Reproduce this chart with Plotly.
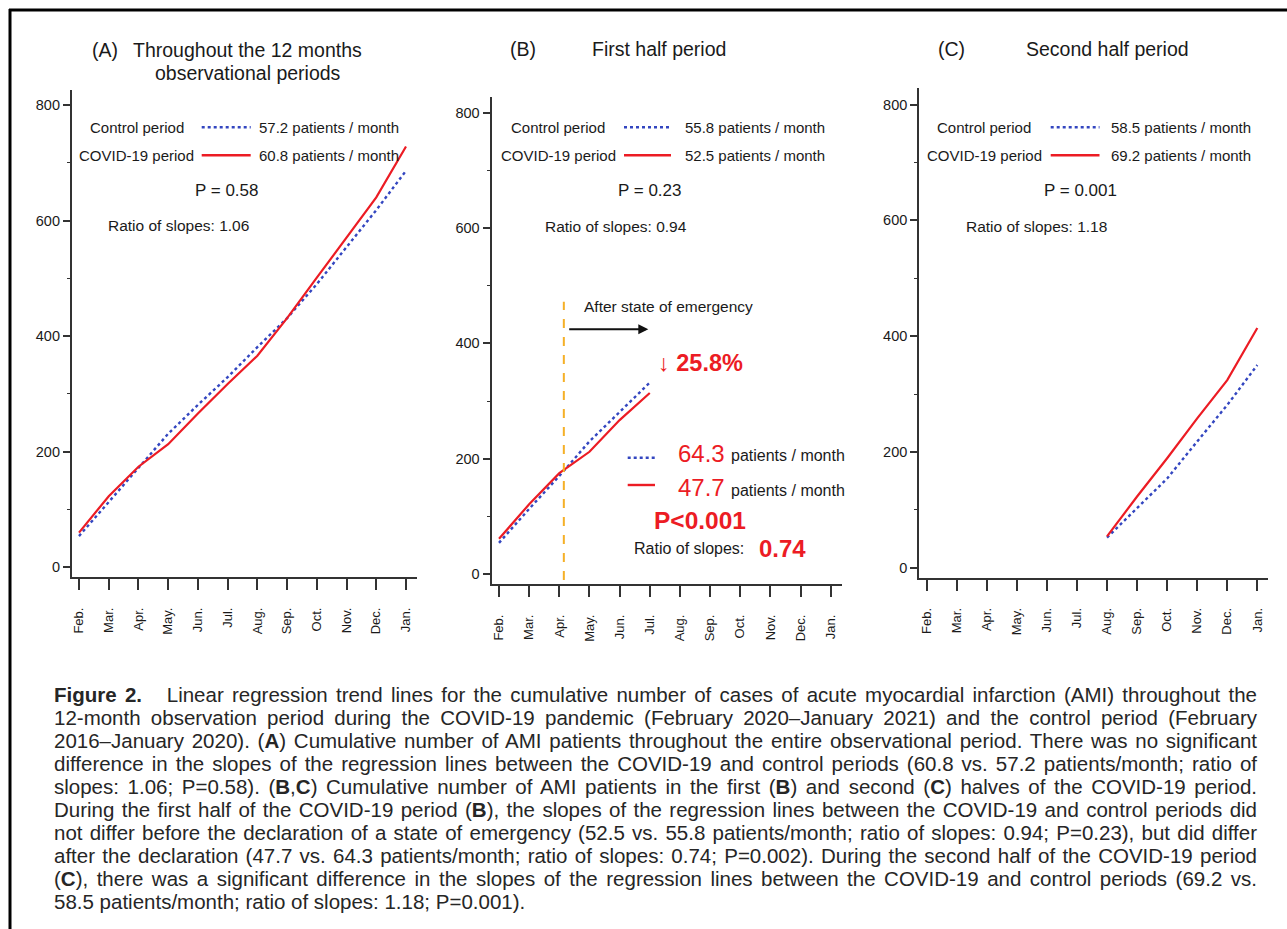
import json
import plotly.graph_objects as go

W, H = 1287, 929

months = ["Feb.", "Mar.", "Apr.", "May.", "Jun.", "Jul.", "Aug.", "Sep.", "Oct.", "Nov.", "Dec.", "Jan."]
y_ticks = [0, 200, 400, 600, 800]

# Panel A: whole 12 months
a_months = months
a_control = [54, 113, 172, 231, 281, 329, 381, 431, 490, 553, 618, 686]
a_covid = [60, 123, 174, 213, 266, 317, 366, 431, 501, 571, 640, 728]

# Panel B: first half
b_months = months[:6]
b_control = [54, 113, 170, 230, 281, 332]
b_covid = [61, 121, 175, 212, 267, 314]

# Panel C: second half
c_months = months[6:]
c_control = [52, 103, 154, 218, 281, 350]
c_covid = [54, 123, 189, 258, 324, 414]

BLUE = "#3346c0"
RED = "#ec1c24"
TXT = "#1a1a1a"
AX = "#333333"
FONT = "Liberation Sans, Arial, sans-serif"
NARROW = "Liberation Sans Narrow, Arial Narrow, Liberation Sans, sans-serif"


def px(x):
    return x / W


def py(y):
    return 1 - y / H


def idx(ms):
    return [months.index(m) for m in ms]


fig = go.Figure()

panels = [
    ("x", "y", a_months, a_control, a_covid),
    ("x2", "y2", b_months, b_control, b_covid),
    ("x3", "y3", c_months, c_control, c_covid),
]
for xr, yr, ms, ctrl, cov in panels:
    fig.add_trace(go.Scatter(x=idx(ms), y=ctrl, mode="lines", xaxis=xr, yaxis=yr,
                             line=dict(color=BLUE, width=2.4, dash="dot"), showlegend=False,
                             hoverinfo="skip"))
    fig.add_trace(go.Scatter(x=idx(ms), y=cov, mode="lines", xaxis=xr, yaxis=yr,
                             line=dict(color=RED, width=2.2), showlegend=False,
                             hoverinfo="skip"))

# axis geometry in pixels
geo = [
    dict(yax=72.0, f=79.0, l=406.0, xend=416.7, y0=567.3, s=0.578, base=577.3, top=90.0),
    dict(yax=491.7, f=499.0, l=830.7, xend=841.7, y0=574.0, s=0.5765, base=584.3, top=96.7),
    dict(yax=919.3, f=926.7, l=1257.3, xend=1268.3, y0=567.7, s=0.579, base=577.7, top=88.3),
]

for i, g in enumerate(geo):
    step = (g["l"] - g["f"]) / 11
    xr0 = (g["yax"] - g["f"]) / step
    xr1 = 11 + (g["xend"] - g["l"]) / step
    yr0 = -(g["base"] - g["y0"]) / g["s"]
    yr1 = (g["y0"] - g["top"]) / g["s"]
    sfx = "" if i == 0 else str(i + 1)
    xa = dict(domain=[px(g["yax"]), px(g["xend"])], range=[xr0, xr1],
              tickmode="array", tickvals=list(range(12)), ticktext=months,
              tickangle=-90, ticks="outside", ticklen=11, tickwidth=1.6, tickcolor=AX,
              showline=True, linewidth=2.2, linecolor=AX, showgrid=False, zeroline=False,
              ticklabelstandoff=12,
              tickfont=dict(family=FONT, size=13, color=TXT),
              anchor="y" + sfx, fixedrange=True)
    ya = dict(domain=[py(g["base"]), py(g["top"])], range=[yr0, yr1],
              tickmode="array", tickvals=y_ticks, ticks="outside", ticklen=7, tickwidth=1.6,
              tickcolor=AX, showline=True, linewidth=2.2, linecolor=AX, showgrid=False,
              zeroline=False, tickfont=dict(family=NARROW, size=14.5, color=TXT),
              minor=dict(tickvals=[100, 300, 500, 700], ticks="outside", ticklen=3,
                         tickwidth=1.2, tickcolor=AX),
              anchor="x" + sfx, fixedrange=True)
    fig.update_layout(**{"xaxis" + sfx: xa, "yaxis" + sfx: ya})

annotations = []
shapes = []


def text(x, y, s, size=15, anchor="center", color=TXT, family=FONT):
    annotations.append(dict(x=px(x), y=py(y), xref="paper", yref="paper", text=s,
                            showarrow=False, xanchor=anchor, yanchor="middle",
                            align="left" if anchor == "left" else ("right" if anchor == "right" else "center"),
                            font=dict(family=family, size=size, color=color)))
    return len(annotations) - 1


def seg(x0, x1, y, color, dash, width):
    shapes.append(dict(type="line", xref="paper", yref="paper", x0=px(x0), x1=px(x1),
                       y0=py(y), y1=py(y), line=dict(color=color, dash=dash, width=width)))


# Titles
text(90, 50, "(A)", 19.5, "left")
text(247.5, 50, "Throughout the 12 months", 19.5)
text(248, 72.7, "observational periods", 19.5)
text(508, 49.3, "(B)", 19.5, "left")
text(659, 49.3, "First half period", 19.5)
text(936, 49.3, "(C)", 19.5, "left")
text(1107.5, 49.3, "Second half period", 19.5)

# Legends in each panel
legend_cfg = [
    (186, 195.7, 201.7, 250.7, 256.7, "57.2", "60.8", 226.7, 190, 106, 225, "0.58", "1.06"),
    (606.7, 617.7, 624, 671, 683.3, "55.8", "52.5", 650, 190.7, 542.7, 226.7, "0.23", "0.94"),
    (1033.3, 1044, 1050.7, 1099.5, 1109.3, "58.5", "69.2", 1080, 190.7, 964.3, 226.7, "0.001", "1.18"),
]
for (cr, vr, l0, l1, vx, cv, vv, pxc, pyc, rx, ry, pval, ratio) in legend_cfg:
    text(cr, 127.3, "Control period", 15, "right")
    text(vr, 155.3, "COVID-19 period", 15, "right")
    seg(l0, l1, 127.3, BLUE, "dot", 2.6)
    seg(l0, l1, 155.3, RED, "solid", 2.4)
    text(vx, 127.3, f"{cv} patients / month", 15, "left")
    text(vx, 155.3, f"{vv} patients / month", 15, "left")
    text(pxc, pyc, f"P = {pval}", 17)
    text(rx, ry, f"Ratio of slopes: {ratio}", 15.5, "left")

# Panel B: state of emergency annotations
shapes.append(dict(type="line", xref="x2", yref="paper", x0=2.15, x1=2.15,
                   y0=py(580), y1=py(301.7), line=dict(color="#f5b027", dash="dash", width=2)))
text(581.7, 306, "After state of emergency", 15.5, "left")
annotations.append(dict(x=px(648.3), y=py(329.3), xref="paper", yref="paper", text="",
                        showarrow=True, ax=567.7 - 648.3, ay=0, arrowhead=2, arrowsize=1,
                        arrowwidth=2, arrowcolor="#111111"))
text(656, 362.7, "↓ <b>25.8%</b>", 23.5, "left", RED)
seg(627.7, 655, 457.7, BLUE, "dot", 2.6)
seg(627.7, 655, 485, RED, "solid", 2.4)
text(676, 453, "64.3", 24, "left", RED)
text(729.3, 455, "patients / month", 16, "left")
text(676, 487.3, "47.7", 24, "left", RED)
text(729.3, 490, "patients / month", 16, "left")
text(651.7, 520, "<b>P&lt;0.001</b>", 24.5, "left", RED)
text(631.7, 548.3, "Ratio of slopes:", 16, "left")
text(756.7, 548.3, "<b>0.74</b>", 24, "left", RED)

# Figure frame
shapes.append(dict(type="line", xref="paper", yref="paper", x0=px(10), x1=px(10),
                   y0=0, y1=py(9), line=dict(color="#000000", width=3)))
shapes.append(dict(type="line", xref="paper", yref="paper", x0=px(9), x1=1,
                   y0=py(10), y1=py(10), line=dict(color="#000000", width=3)))

# Caption
caption = [
    "<b>Figure 2.</b>&nbsp;&nbsp; Linear regression trend lines for the cumulative number of cases of acute myocardial infarction (AMI) throughout the",
    "12-month observation period during the COVID-19 pandemic (February 2020–January 2021) and the control period (February",
    "2016–January 2020). (<b>A</b>) Cumulative number of AMI patients throughout the entire observational period. There was no significant",
    "difference in the slopes of the regression lines between the COVID-19 and control periods (60.8 vs. 57.2 patients/month; ratio of",
    "slopes: 1.06; P=0.58). (<b>B</b>,<b>C</b>) Cumulative number of AMI patients in the first (<b>B</b>) and second (<b>C</b>) halves of the COVID-19 period.",
    "During the first half of the COVID-19 period (<b>B</b>), the slopes of the regression lines between the COVID-19 and control periods did",
    "not differ before the declaration of a state of emergency (52.5 vs. 55.8 patients/month; ratio of slopes: 0.94; P=0.23), but did differ",
    "after the declaration (47.7 vs. 64.3 patients/month; ratio of slopes: 0.74; P=0.002). During the second half of the COVID-19 period",
    "(<b>C</b>), there was a significant difference in the slopes of the regression lines between the COVID-19 and control periods (69.2 vs.",
    "58.5 patients/month; ratio of slopes: 1.18; P=0.001).",
]
justify_idx = []
for k, line in enumerate(caption):
    j = text(52, 694 + 23 * k, line, 20.5, "left", "#262626")
    if k < len(caption) - 1:
        justify_idx.append(j)

fig.update_layout(width=W, height=H, margin=dict(l=0, r=0, t=0, b=0),
                  paper_bgcolor="white", plot_bgcolor="rgba(0,0,0,0)",
                  annotations=annotations, shapes=shapes, showlegend=False)

JUSTIFY_WIDTH = 1255 - 52
post = """
document.body.style.margin='0';
document.body.style.overflow='hidden';
(function(){
  var gd = document.getElementById('{plot_id}');
  var ids = %s;
  var target = %d;
  function justify(){
    ids.forEach(function(i){
      var g = gd.querySelector('g.annotation[data-index="' + i + '"]');
      if(!g) return;
      var t = g.querySelector('text.annotation-text');
      if(!t) return;
      t.style.wordSpacing = '0px';
      var len = t.getComputedTextLength();
      var n = (t.textContent.match(/[ \\u00a0]/g) || []).length;
      if(n > 0 && len < target){ t.style.wordSpacing = ((target - len) / n) + 'px'; }
    });
  }
  justify();
  if(gd && gd.on){ gd.on('plotly_afterplot', justify); }
})();
""" % (json.dumps(justify_idx), JUSTIFY_WIDTH)

fig.write_html("out.html", config={"displayModeBar": False}, post_script=post)
